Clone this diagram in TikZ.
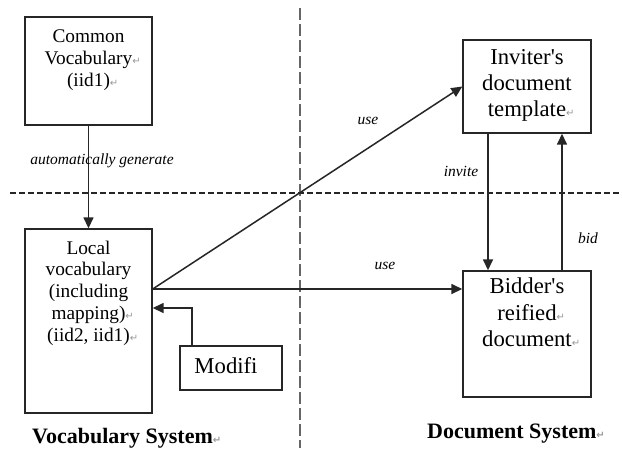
\documentclass[tikz,border=0pt]{standalone}
\usepackage{fontspec}
\setmainfont{Liberation Serif}
\newfontfamily\symfont{DejaVu Sans}
\usetikzlibrary{arrows.meta}

% gray paragraph mark hung after a line, not counted in its width
\newcommand\retmark{\rlap{\textcolor{black!40}{\fontsize{10}{10}\symfont ↵}}}

\begin{document}
\begin{tikzpicture}[x=1pt,y=-1pt,
  box/.style={draw=black!85, line width=1.4pt, inner sep=0pt, fill=white},
  lefttext/.style={anchor=north, inner sep=0pt, align=center, font=\fontsize{19.3}{21.7}\selectfont},
  righttext/.style={anchor=north, inner sep=0pt, align=center, font=\fontsize{22.7}{26.3}\selectfont},
  lbl/.style={inner sep=0pt, font=\fontsize{15.5}{18}\selectfont\itshape},
  sysname/.style={anchor=base west, inner sep=0pt, font=\fontsize{22}{24}\selectfont\bfseries},
  arr/.style={draw=black!85, line width=1.5pt, -{Triangle[length=11pt,width=10pt]}},
  divider/.style={line width=1.3pt}]
\useasboundingbox (0,0) rectangle (622,448);
\fill[white] (0,0) rectangle (622,448);

% dividers between the two systems and the two layers
\draw[divider, draw=black!60, line width=1.9pt, dash pattern=on 12pt off 4pt] (300,8) -- (300,448);
\draw[divider, draw=black!85, dash pattern=on 6pt off 3pt] (10,193) -- (622,193);

% boxes
\node[box, minimum width=127pt, minimum height=108pt] (common) at (88.5,71) {};
\node[box, minimum width=127pt, minimum height=184pt] (local) at (88.5,321) {};
\node[box, minimum width=128pt, minimum height=93pt] (inv) at (527,86.5) {};
\node[box, minimum width=128pt, minimum height=126pt] (bid) at (527,334) {};
\node[box, minimum width=102pt, minimum height=44pt] (modifi) at (231,368) {};

% box texts
\node[lefttext] (commontext) at (88.5,30) {Common\\Vocabulary\retmark\\(iid1)\retmark};
\node[lefttext] (localtext) at (88.5,240.7) {Local\\vocabulary\\(including\\mapping)\retmark\\(iid2, iid1)\retmark};
\node[righttext] (invtext) at (527,49) {Inviter\textquotesingle s\\document\\template\retmark};
\node[righttext] (bidtext) at (527,278) {Bidder\textquotesingle s\\reified\retmark\\document\retmark};
\node[inner sep=0pt, font=\fontsize{22.7}{26}\selectfont] (moditext) at (226,366) {Modifi};

% helper coordinates for the connector lines
\coordinate (useline) at (0,289);
\coordinate (modline) at (0,308);
\coordinate (modx) at (192,0);
\coordinate (invx) at (488,0);
\coordinate (bidx) at (562,0);

% connectors
\draw[arr] (common) -- (local);
\draw[arr] (local.east |- useline) -- (inv.west);
\draw[arr] (local.east |- useline) -- (bid.west |- useline);
\draw[arr] (modifi.north -| modx) -- (modx |- modline) -- (local.east |- modline);
\draw[arr] (inv.south -| invx) -- (bid.north -| invx);
\draw[arr] (bid.north -| bidx) -- (inv.south -| bidx);

% connector labels
\node[lbl] (lgen) at (102,161) {automatically generate};
\node[lbl] (luse1) at (368,121) {use};
\node[lbl] (luse2) at (385,266) {use};
\node[lbl] (linvite) at (461,171) {invite};
\node[lbl] (lbid) at (588,238) {bid};

% system names
\node[sysname] (vocsys) at (32,443) {Vocabulary System\retmark};
\node[sysname] (docsys) at (427,438) {Document System\retmark};
\end{tikzpicture}
\end{document}
